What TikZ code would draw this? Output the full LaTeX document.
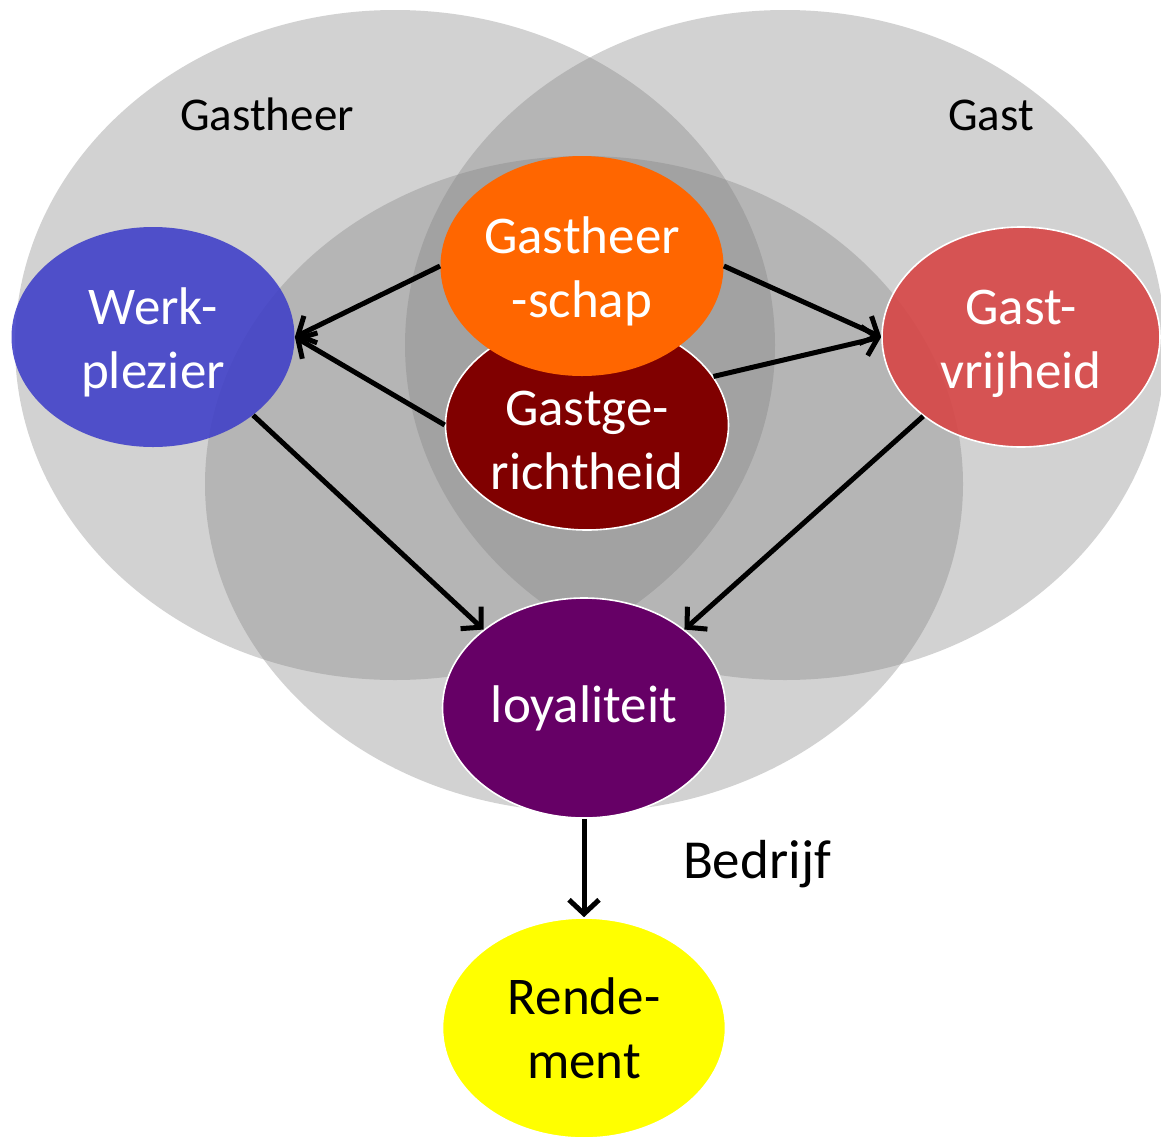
\documentclass[tikz,border=0pt]{standalone}
\usepackage{fontspec}
\setmainfont{Carlito}
\usetikzlibrary{shapes.geometric,arrows.meta}
\definecolor{wpblue}{RGB}{62,62,200}
\definecolor{gsorange}{RGB}{255,102,0}
\definecolor{ggred}{RGB}{128,0,0}
\definecolor{gvred}{RGB}{215,70,70}
\definecolor{lopurple}{RGB}{102,0,102}
\definecolor{reyellow}{RGB}{255,255,0}
\newcommand{\topstrut}{\rule{0pt}{0.9em}}
\begin{document}
\begin{tikzpicture}[x=0.5pt,y=-0.5pt,
  bigc/.style={ellipse, fill=gray, fill opacity=0.35, draw=none,
    minimum width=380pt, minimum height=335pt, inner sep=0pt},
  blob/.style={ellipse, inner sep=0pt, minimum width=141.5pt, minimum height=110pt,
    font=\fontsize{26.5}{32}\selectfont, text=white, align=center, text opacity=1},
  intext/.style={font=\fontsize{26.5}{32}\selectfont, text=white, align=center, inner sep=0pt},
  wborder/.style={draw=white, line width=0.8pt},
  lbl/.style={font=\fontsize{23.5}{28}\selectfont, text=black, anchor=base, inner sep=0pt},
  arr/.style={line width=2.5pt, draw=black, -{Straight Barb[length=7pt,width=15pt]}}
]
\useasboundingbox (0,0) rectangle (1161,1141);
\fill[white] (0,0) rectangle (1161,1141);

% big overlapping circles
\node[bigc] (hostC) at (395,345) {};
\node[bigc] (guestC) at (785,345) {};
\node[bigc, minimum width=379pt, minimum height=328pt] (bizC) at (584,484) {};

% labels
\node[lbl] (hostL) at (267,130) {Gastheer};
\node[lbl] (guestL) at (991,130) {Gast};
\node[lbl, font=\fontsize{27.5}{32}\selectfont] (bizL) at (757,878) {Bedrijf};

% ellipses
\node[blob, fill=wpblue, fill opacity=0.88] (wp) at (153,337) {\topstrut Werk-\\plezier};
\node[blob, wborder, fill=ggred, minimum height=105pt] (gg) at (587,425) {};
\node[intext] (ggT) at (587,440) {Gastge-\\richtheid};
\node[blob, fill=gsorange] (gs) at (582,266) {\topstrut Gastheer\\-schap};
\node[blob, wborder, fill=gvred, fill opacity=0.9, minimum width=139pt] (gv) at (1021,337) {\topstrut Gast-\\vrijheid};
\node[blob, wborder, fill=lopurple] (lo) at (584,708) {loyaliteit};
\node[blob, wborder, fill=reyellow, text=black] (re) at (584,1028) {Rende-\\ment};

% arrows
\draw[arr] (gs.west) -- (wp.east);
\draw[arr] (gg.west) -- (wp.east);
\draw[arr] (gs.east) -- (gv.west);
\draw[arr] (gg.21) -- (gv.west);
\draw[arr] (wp.-38) -- (lo.142);
\draw[arr] (gv.219) -- (lo.38);
\draw[arr] (lo.south) -- (re.north);
\end{tikzpicture}
\end{document}
